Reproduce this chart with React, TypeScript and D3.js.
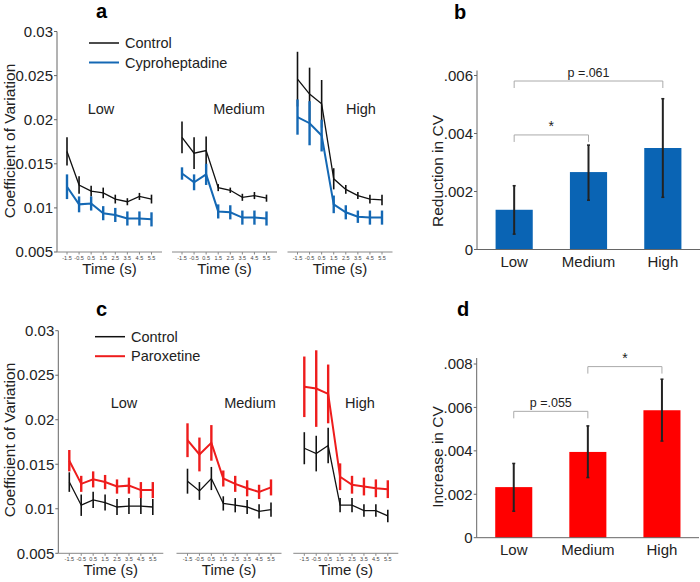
import React from "react";
import * as d3 from "d3";

const times = [-1.5, -0.5, 0.5, 1.5, 2.5, 3.5, 4.5, 5.5];
const timeLabels = ["-1.5", "-0.5", "0.5", "1.5", "2.5", "3.5", "4.5", "5.5"];
const levels = ["Low", "Medium", "High"];
const cvTicks = [0.005, 0.01, 0.015, 0.02, 0.025, 0.03];
const cvTickLabels = ["0.005", "0.01", "0.015", "0.02", "0.025", "0.03"];

// Panel a: control vs cyproheptadine
const aControlMean = [
  [0.0164, 0.0126, 0.0119, 0.0117, 0.011, 0.0107, 0.0113, 0.011],
  [0.018, 0.0162, 0.0165, 0.0123, 0.012, 0.0112, 0.0114, 0.0111],
  [0.0246, 0.0229, 0.0218, 0.0133, 0.0121, 0.0114, 0.011, 0.0109],
];
const aControlErr = [
  [0.0016, 0.001, 0.0006, 0.0006, 0.0005, 0.0004, 0.0004, 0.0005],
  [0.0018, 0.0018, 0.0016, 0.0004, 0.0003, 0.0004, 0.0004, 0.0004],
  [0.0031, 0.003, 0.0027, 0.0012, 0.0005, 0.0004, 0.0005, 0.0006],
];
const aDrugMean = [
  [0.0124, 0.0104, 0.0105, 0.0094, 0.0092, 0.0088, 0.0088, 0.0087],
  [0.0139, 0.0129, 0.0138, 0.0096, 0.0095, 0.0089, 0.0089, 0.0088],
  [0.0203, 0.0196, 0.0182, 0.0104, 0.0095, 0.009, 0.0089, 0.0089],
];
const aDrugErr = [
  [0.0014, 0.0009, 0.0008, 0.0008, 0.0008, 0.0008, 0.0008, 0.0008],
  [0.0007, 0.0009, 0.0012, 0.0008, 0.0008, 0.0008, 0.0008, 0.0008],
  [0.002, 0.0025, 0.0018, 0.001, 0.0008, 0.0007, 0.0008, 0.0008],
];

// Panel c: control vs paroxetine
const cControlMean = [
  [0.013, 0.0104, 0.011, 0.0107, 0.0102, 0.0103, 0.0103, 0.0102],
  [0.0131, 0.012, 0.0134, 0.0106, 0.0104, 0.0102, 0.0097, 0.0099],
  [0.0168, 0.0162, 0.0171, 0.0104, 0.0104, 0.0098, 0.0098, 0.0092],
];
const cControlErr = [
  [0.0011, 0.0012, 0.0009, 0.0009, 0.0009, 0.0009, 0.0009, 0.0009],
  [0.0014, 0.001, 0.0013, 0.0008, 0.0008, 0.0008, 0.0008, 0.0008],
  [0.0018, 0.002, 0.002, 0.0008, 0.0008, 0.0007, 0.0007, 0.0007],
];
const cDrugMean = [
  [0.0154, 0.0128, 0.0133, 0.013, 0.0125, 0.0126, 0.0121, 0.0121],
  [0.0177, 0.0161, 0.0174, 0.0134, 0.0128, 0.0123, 0.0119, 0.0124],
  [0.0237, 0.0235, 0.0229, 0.0136, 0.0127, 0.0125, 0.0123, 0.0122],
];
const cDrugErr = [
  [0.0012, 0.0009, 0.0009, 0.0008, 0.0008, 0.0009, 0.0009, 0.0009],
  [0.0019, 0.0019, 0.002, 0.0009, 0.0009, 0.0009, 0.0008, 0.0009],
  [0.0034, 0.0043, 0.0033, 0.0015, 0.001, 0.001, 0.001, 0.001],
];

// Panel b: reduction in CV
const bMean = [0.00137, 0.00267, 0.0035];
const bLow = [0.00053, 0.0017, 0.0018];
const bHigh = [0.0022, 0.0036, 0.0052];
const bTicks = [0, 0.002, 0.004, 0.006];
const bTickLabels = ["0", ".002", ".004", ".006"];

// Panel d: increase in CV
const dMean = [0.00233, 0.00395, 0.00587];
const dLow = [0.00122, 0.00277, 0.00445];
const dHigh = [0.00342, 0.00515, 0.0073];
const dTicks = [0, 0.002, 0.004, 0.006, 0.008];
const dTickLabels = ["0", ".002", ".004", ".006", ".008"];

const FONT = "'Liberation Sans', Arial, sans-serif";
const BLUE = "#1468b4";
const BAR_BLUE = "#0a64b4";
const RED = "#ee1c1c";
const BAR_RED = "#ff0000";

type LineProps = {
  letter: string;
  letterX: number;
  letterY: number;
  yBottom: number;
  yTop: number;
  starts: number[];
  axisLen: number;
  tickOff0: number;
  tickOff1: number;
  control: number[][];
  controlErr: number[][];
  drug: number[][];
  drugErr: number[][];
  color: string;
  drugName: string;
  legendX: number;
  legendY: number;
  levelX: number[];
  levelY: number;
  yLabelY: number;
};

function LinePanel(p: LineProps) {
  const y = d3.scaleLinear().domain([0.005, 0.03]).range([p.yBottom, p.yTop]);
  const axisX = p.starts[0];
  const series = (
    i: number,
    means: number[][],
    errs: number[][],
    color: string,
    lw: number,
    ew: number,
    x: d3.ScaleLinear<number, number>
  ) => {
    const line = d3
      .line<number>()
      .x((_, j) => x(times[j]))
      .y((v) => y(v));
    return (
      <g>
        {means[i].map((v, j) => (
          <line
            key={j}
            x1={x(times[j])}
            x2={x(times[j])}
            y1={y(v - errs[i][j])}
            y2={y(v + errs[i][j])}
            stroke={color}
            strokeWidth={ew}
          />
        ))}
        <path d={line(means[i]) || ""} fill="none" stroke={color} strokeWidth={lw} />
      </g>
    );
  };
  return (
    <g fontFamily={FONT}>
      <text x={p.letterX} y={p.letterY} fontSize={20} fontWeight="bold" textAnchor="middle">
        {p.letter}
      </text>
      {/* y axis */}
      <line x1={axisX} x2={axisX} y1={p.yTop} y2={p.yBottom} stroke="#666" strokeWidth={1} />
      {cvTicks.map((t, i) => (
        <g key={i}>
          <line x1={axisX - 3} x2={axisX} y1={y(t)} y2={y(t)} stroke="#666" />
          <text x={axisX - 4} y={y(t)} dy="0.35em" fontSize={15} textAnchor="end" fill="#222">
            {cvTickLabels[i]}
          </text>
        </g>
      ))}
      <text
        transform={`translate(15,${p.yLabelY}) rotate(-90)`}
        fontSize={15.5}
        textAnchor="middle"
        fill="#222"
      >
        Coefficient of Variation
      </text>
      {/* legend */}
      <line x1={p.legendX} x2={p.legendX + 30} y1={p.legendY} y2={p.legendY} stroke="#111" strokeWidth={1.5} />
      <text x={p.legendX + 36} y={p.legendY} dy="0.35em" fontSize={14.5} fill="#222">
        Control
      </text>
      <line
        x1={p.legendX}
        x2={p.legendX + 30}
        y1={p.legendY + 19.5}
        y2={p.legendY + 19.5}
        stroke={p.color}
        strokeWidth={2}
      />
      <text x={p.legendX + 36} y={p.legendY + 19.5} dy="0.35em" fontSize={14.5} fill="#222">
        {p.drugName}
      </text>
      {levels.map((lv, i) => {
        const s = p.starts[i];
        const x = d3
          .scaleLinear()
          .domain([-1.5, 5.5])
          .range([s + p.tickOff0, s + p.tickOff1]);
        return (
          <g key={lv}>
            <line x1={s} x2={s + p.axisLen} y1={p.yBottom} y2={p.yBottom} stroke="#888" strokeWidth={1} />
            {times.map((t, j) => (
              <g key={j}>
                <line x1={x(t)} x2={x(t)} y1={p.yBottom} y2={p.yBottom + 2.5} stroke="#888" />
                <text x={x(t)} y={p.yBottom + 8} fontSize={5.5} textAnchor="middle" fill="#444">
                  {timeLabels[j]}
                </text>
              </g>
            ))}
            <text x={s + p.axisLen / 2} y={p.yBottom + 22} fontSize={15} textAnchor="middle" fill="#222">
              Time (s)
            </text>
            <text x={p.levelX[i]} y={p.levelY} fontSize={14.5} textAnchor="middle" fill="#222">
              {lv}
            </text>
            {series(i, p.control, p.controlErr, "#111", 1.3, 1.6, x)}
            {series(i, p.drug, p.drugErr, p.color, 2, 2.4, x)}
          </g>
        );
      })}
    </g>
  );
}

type BarProps = {
  letter: string;
  letterX: number;
  letterY: number;
  axisX: number;
  rightX: number;
  yBottom: number;
  yTopVal: number;
  yTopPx: number;
  axisTop: number;
  means: number[];
  lows: number[];
  highs: number[];
  ticks: number[];
  tickLabels: string[];
  color: string;
  yLabel: string;
  yLabelY: number;
  brackets: { from: number; to: number; y: number; label: string }[];
};

function BarPanel(p: BarProps) {
  const y = d3.scaleLinear().domain([0, p.yTopVal]).range([p.yBottom, p.yTopPx]);
  const x = d3
    .scaleBand<string>()
    .domain(levels)
    .range([p.axisX, p.rightX])
    .paddingInner(0.5)
    .paddingOuter(0.25);
  const bw = x.bandwidth();
  return (
    <g fontFamily={FONT}>
      <text x={p.letterX} y={p.letterY} fontSize={20} fontWeight="bold" textAnchor="middle">
        {p.letter}
      </text>
      {levels.map((lv, i) => (
        <g key={lv}>
          <rect
            x={x(lv)!}
            width={bw}
            y={y(p.means[i])}
            height={p.yBottom - y(p.means[i])}
            fill={p.color}
          />
          <line
            x1={x(lv)! + bw / 2}
            x2={x(lv)! + bw / 2}
            y1={y(p.lows[i])}
            y2={y(p.highs[i])}
            stroke="#222"
            strokeWidth={2}
          />
          <line x1={x(lv)! + bw / 2 - 1.5} x2={x(lv)! + bw / 2 + 1.5} y1={y(p.lows[i])} y2={y(p.lows[i])} stroke="#222" strokeWidth={1.5} />
          <line x1={x(lv)! + bw / 2 - 1.5} x2={x(lv)! + bw / 2 + 1.5} y1={y(p.highs[i])} y2={y(p.highs[i])} stroke="#222" strokeWidth={1.5} />
          <text x={x(lv)! + bw / 2} y={p.yBottom + 17.5} fontSize={15} textAnchor="middle" fill="#222">
            {lv}
          </text>
        </g>
      ))}
      <line x1={p.axisX} x2={p.axisX} y1={p.axisTop} y2={p.yBottom} stroke="#666" />
      <line x1={p.axisX} x2={p.rightX} y1={p.yBottom} y2={p.yBottom} stroke="#666" />
      {p.ticks.map((t, i) => (
        <g key={i}>
          <line x1={p.axisX - 3} x2={p.axisX} y1={y(t)} y2={y(t)} stroke="#666" />
          <text x={p.axisX - 4} y={y(t)} dy="0.35em" fontSize={15} textAnchor="end" fill="#222">
            {p.tickLabels[i]}
          </text>
        </g>
      ))}
      <text
        transform={`translate(${p.axisX - 34},${p.yLabelY}) rotate(-90)`}
        fontSize={15.5}
        textAnchor="middle"
        fill="#222"
      >
        {p.yLabel}
      </text>
      {p.brackets.map((b, i) => {
        const x1 = x(levels[b.from])! + bw / 2;
        const x2 = x(levels[b.to])! + bw / 2;
        const by = y(b.y);
        return (
          <g key={i}>
            <path
              d={`M${x1},${by + 7}V${by}H${x2}V${by + 7}`}
              fill="none"
              stroke="#aaa"
              strokeWidth={1}
            />
            <text
              x={(x1 + x2) / 2}
              y={by - 4}
              fontSize={b.label === "*" ? 14 : 12.5}
              textAnchor="middle"
              fill="#222"
            >
              {b.label}
            </text>
          </g>
        );
      })}
    </g>
  );
}

export default function App() {
  return (
    <svg
      width={700}
      height={582}
      style={{ position: "absolute", left: 0, top: 0, background: "#fff" }}
    >
      <LinePanel
        letter="a"
        letterX={101.5}
        letterY={17.5}
        yBottom={252}
        yTop={31.5}
        starts={[57, 172, 287.5]}
        axisLen={105}
        tickOff0={10}
        tickOff1={94.5}
        control={aControlMean}
        controlErr={aControlErr}
        drug={aDrugMean}
        drugErr={aDrugErr}
        color={BLUE}
        drugName="Cyproheptadine"
        legendX={89}
        legendY={43}
        levelX={[101, 239, 361]}
        levelY={114}
        yLabelY={141}
      />
      <BarPanel
        letter="b"
        letterX={460}
        letterY={18.5}
        axisX={477}
        rightX={700}
        yBottom={249.5}
        yTopVal={0.006}
        yTopPx={75.5}
        axisTop={70.5}
        means={bMean}
        lows={bLow}
        highs={bHigh}
        ticks={bTicks}
        tickLabels={bTickLabels}
        color={BAR_BLUE}
        yLabel="Reduction in CV"
        yLabelY={171}
        brackets={[
          { from: 0, to: 2, y: 0.00581, label: "p =.061" },
          { from: 0, to: 1, y: 0.00395, label: "*" },
        ]}
      />
      <LinePanel
        letter="c"
        letterX={101.5}
        letterY={316}
        yBottom={553.3}
        yTop={330.7}
        starts={[58.3, 176.5, 293.3]}
        axisLen={105}
        tickOff0={11}
        tickOff1={94.5}
        control={cControlMean}
        controlErr={cControlErr}
        drug={cDrugMean}
        drugErr={cDrugErr}
        color={RED}
        drugName="Paroxetine"
        legendX={95}
        legendY={336.7}
        levelX={[124, 250, 360]}
        levelY={408}
        yLabelY={440}
      />
      <BarPanel
        letter="d"
        letterX={463}
        letterY={316}
        axisX={476.7}
        rightX={699}
        yBottom={537.7}
        yTopVal={0.008}
        yTopPx={364}
        axisTop={358}
        means={dMean}
        lows={dLow}
        highs={dHigh}
        ticks={dTicks}
        tickLabels={dTickLabels}
        color={BAR_RED}
        yLabel="Increase in CV"
        yLabelY={457}
        brackets={[
          { from: 0, to: 1, y: 0.00582, label: "p =.055" },
          { from: 1, to: 2, y: 0.00788, label: "*" },
        ]}
      />
    </svg>
  );
}
